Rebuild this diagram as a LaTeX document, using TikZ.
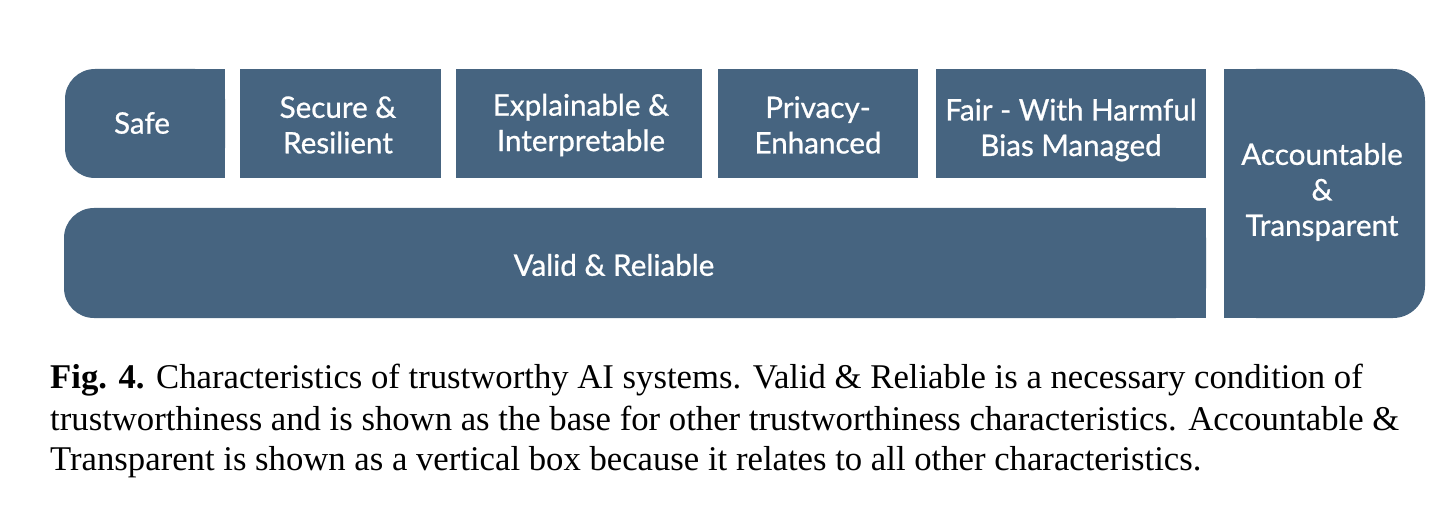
\documentclass[tikz,border=0pt]{standalone}
\usepackage{fontspec}
\setmainfont{Liberation Serif}
\newfontface\boxfont[FakeBold=0.8]{Lato}
\definecolor{boxblue}{RGB}{70,100,128}
\begin{document}
\begin{tikzpicture}[x=1pt,y=-1pt,
  lbl/.style={text=white,font=\boxfont\fontsize{29.6}{35.5}\selectfont,align=center,inner sep=0},
  captext/.style={anchor=base west,inner sep=0,font=\fontsize{34.7}{41}\selectfont},
  boxfill/.style={fill=boxblue}]
\useasboundingbox (0,0) rectangle (1456,529);
% Safe (rounded left)
\fill[boxfill,rounded corners=30] (65,69) rectangle (225,178);
\fill[boxfill] (150,69) rectangle (225,178);
% plain boxes
\fill[boxfill] (240,69) rectangle (441,178);
\fill[boxfill] (456,69) rectangle (702,178);
\fill[boxfill] (718,69) rectangle (918,178);
\fill[boxfill] (936,69) rectangle (1206,178);
% Valid (rounded left)
\fill[boxfill,rounded corners=30] (64,208) rectangle (1206,318);
\fill[boxfill] (600,208) rectangle (1206,318);
% Accountable (rounded right)
\fill[boxfill,rounded corners=32] (1224,69) rectangle (1425,318);
\fill[boxfill] (1224,69) rectangle (1320,318);
% labels
\node[lbl] (safe) at (142,123) {Safe};
\node[lbl] (secure) at (338,125) {Secure \&\\Resilient};
\node[lbl] (explain) at (581,125) {Explainable \&\\Interpretable};
\node[lbl] (privacy) at (818,125) {Privacy-\\Enhanced};
\node[lbl] (fair) at (1071,130) {Fair - With Harmful\\Bias Managed};
\node[lbl] (valid) at (614,265) {Valid \& Reliable};
\node[lbl] (acc) at (1322,192) {Accountable\\\&\\Transparent};
% caption
\node[captext] (c1) at (50,388) {\textbf{Fig. 4.} Characteristics of trustworthy AI systems. Valid \& Reliable is a necessary condition of};
\node[captext] (c2) at (50,430) {trustworthiness and is shown as the base for other trustworthiness characteristics. Accountable \&};
\node[captext] (c3) at (50,470) {Transparent is shown as a vertical box because it relates to all other characteristics.};
\end{tikzpicture}
\end{document}
